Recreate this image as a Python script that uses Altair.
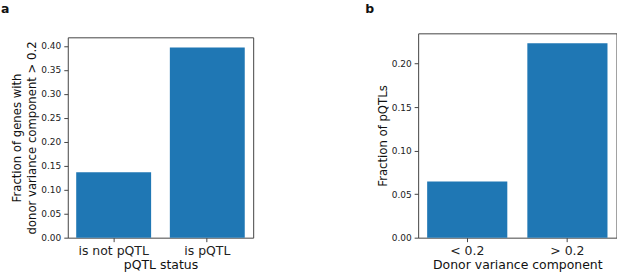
import altair as alt
import pandas as pd

# ---- data ----
cats_a = ["is not pQTL", "is pQTL"]
vals_a = [0.1365, 0.3965]
cats_b = ["< 0.2", "> 0.2"]
vals_b = [0.0645, 0.2235]
ticks_a = [0.00, 0.05, 0.10, 0.15, 0.20, 0.25, 0.30, 0.35, 0.40]
ticks_b = [0.00, 0.05, 0.10, 0.15, 0.20]

FONT = "DejaVu Sans"
BAR = "#1f77b4"
FRAME = "#444444"

df_a = pd.DataFrame({"cat": cats_a, "val": vals_a})
df_b = pd.DataFrame({"cat": cats_b, "val": vals_b})


def panel(df, cats, ticks, top, xtitle, ytitle, w, h):
    return (
        alt.Chart(df)
        .mark_bar(color=BAR)
        .encode(
            x=alt.X(
                "cat:N",
                sort=cats,
                scale=alt.Scale(paddingInner=0.2, paddingOuter=0.09),
                axis=alt.Axis(title=xtitle, labelAngle=0, labelFontSize=12.5,
                              titleFontSize=12.5, labelPadding=3, titlePadding=1),
            ),
            y=alt.Y(
                "val:Q",
                scale=alt.Scale(domain=[0, top], nice=False, zero=True),
                axis=alt.Axis(title=ytitle, values=ticks, format=".2f",
                              labelFontSize=9, labelPadding=3, titlePadding=3,
                              titleFontSize=11.7, titleLineHeight=15),
            ),
        )
        .properties(width=w, height=h,
                    view=alt.ViewBackground(stroke=FRAME, strokeWidth=1))
    )


def letter(t, dx, w, h):
    return (
        alt.Chart(pd.DataFrame({"t": [t]}))
        .mark_text(text=t, font=FONT, fontWeight="bold", fontSize=12.5,
                   align="left", baseline="alphabetic", color="#111111")
        .encode(x=alt.value(dx), y=alt.value(12))
        .properties(width=w, height=h,
                    view=alt.ViewBackground(stroke="transparent"))
    )


main_a = panel(df_a, cats_a, ticks_a, 0.418, "pQTL status",
               ["Fraction of genes with", "donor variance component > 0.2"], 186, 201)
main_b = panel(df_b, cats_b, ticks_b, 0.2348, "Donor variance component",
               "Fraction of pQTLs", 199, 205)

col_a = alt.vconcat(letter("a", -67, 186, 36), main_a, spacing=0, bounds="flush")
col_b = alt.vconcat(letter("b", -53, 199, 32), main_b, spacing=0, bounds="flush")

chart = (
    alt.hconcat(col_a, col_b, spacing=110.5)
    .properties(padding=0, background="white")
    .configure_axis(
        labelFont=FONT, titleFont=FONT, grid=False, domain=False,
        tickColor=FRAME, tickSize=4, labelColor="#222222", titleColor="#111111",
        titleFontWeight="normal",
    )
)

chart.save("out.html", embed_options={"renderer": "svg", "actions": False})
